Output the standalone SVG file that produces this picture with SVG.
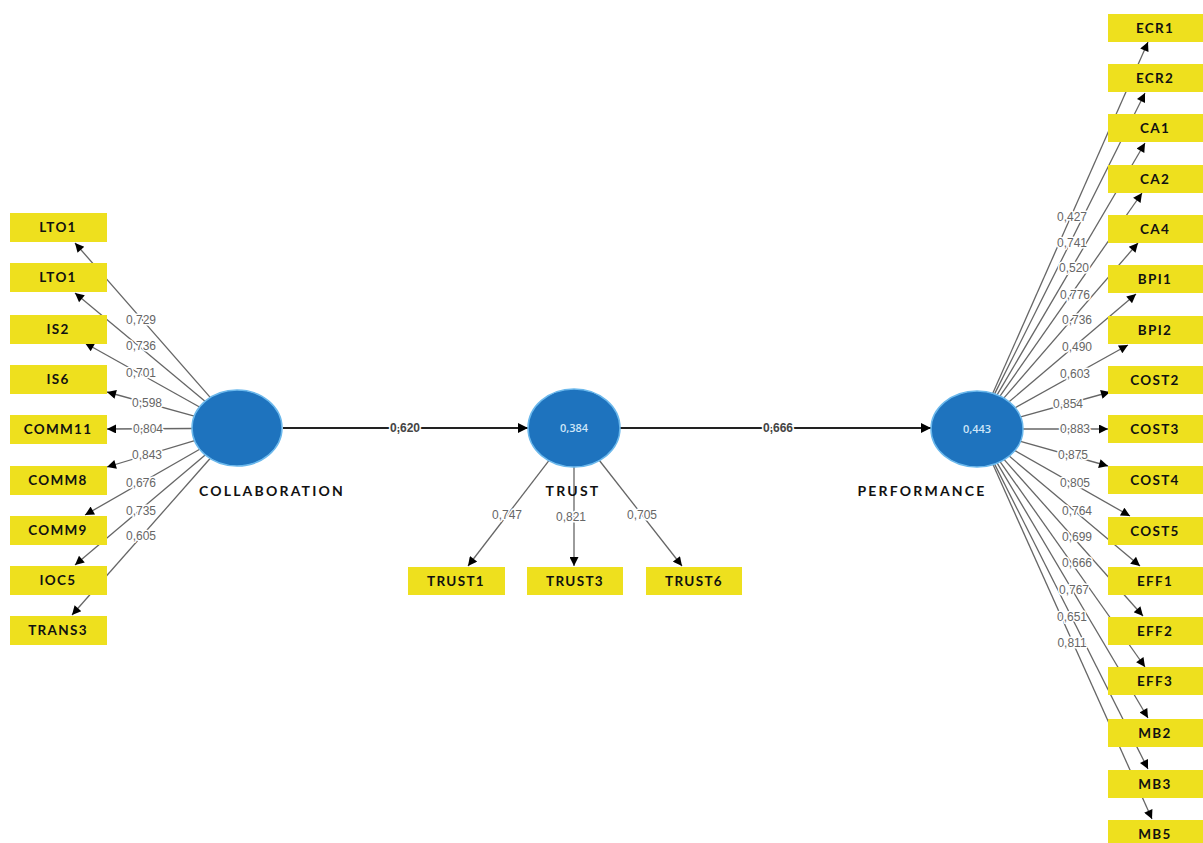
<svg xmlns="http://www.w3.org/2000/svg" width="1203" height="843" viewBox="0 0 1203 843">
<style>
.box{fill:#EEE01E}
.bt{font-family:Lato,"Open Sans",sans-serif;font-weight:700;font-size:13.5px;fill:#111;text-anchor:middle;letter-spacing:1.3px}
.lv{fill:#1E73BE;stroke:#6BB8EC;stroke-width:1.5}
.lvt{font-family:"Open Sans",sans-serif;font-size:11px;font-weight:600;fill:#CFE6F8;text-anchor:middle}
.name{font-family:Lato,"Open Sans",sans-serif;font-weight:700;font-size:14px;fill:#111;text-anchor:middle;letter-spacing:2.2px}
.ld{stroke:#666;stroke-width:1.3;fill:none;marker-end:url(#ah)}
.pth{stroke:#222;stroke-width:2;fill:none;marker-end:url(#ah2)}
.w{font-family:"Liberation Sans",Arial,sans-serif;font-size:12px;fill:#666;text-anchor:middle;stroke:#fff;stroke-width:3;paint-order:stroke;stroke-linejoin:round}
.wp{font-family:"Liberation Sans",Arial,sans-serif;font-size:12px;font-weight:700;fill:#444;text-anchor:middle;stroke:#fff;stroke-width:3;paint-order:stroke}
</style>
<defs>
<marker id="ah" viewBox="0 0 10 10" refX="10" refY="5" markerWidth="11" markerHeight="9" markerUnits="userSpaceOnUse" orient="auto"><path d="M0,0 L10,5 L0,10 z" fill="#000"/></marker>
<marker id="ah2" viewBox="0 0 10 10" refX="10" refY="5" markerWidth="13" markerHeight="10" markerUnits="userSpaceOnUse" orient="auto"><path d="M0,0 L10,5 L0,10 z" fill="#000"/></marker>
</defs>
<rect width="1203" height="843" fill="#fff"/>
<g id="connectors">
<line class="pth" x1="283" y1="428" x2="528" y2="428"/>
<line class="pth" x1="620" y1="428" x2="931" y2="428"/>
<line class="ld" x1="210.2" y1="397.4" x2="75" y2="243"/>
<line class="ld" x1="205" y1="401.3" x2="75" y2="293"/>
<line class="ld" x1="199.5" y1="407" x2="85" y2="343"/>
<line class="ld" x1="194.3" y1="416.2" x2="107" y2="392"/>
<line class="ld" x1="192" y1="428.5" x2="107" y2="429"/>
<line class="ld" x1="194.6" y1="440.7" x2="107" y2="467"/>
<line class="ld" x1="199.7" y1="449.3" x2="85" y2="515"/>
<line class="ld" x1="205.2" y1="454.9" x2="75" y2="565"/>
<line class="ld" x1="210.1" y1="458.5" x2="72" y2="615"/>
<line class="ld" x1="548.9" y1="460.7" x2="468" y2="566"/>
<line class="ld" x1="574" y1="467" x2="574" y2="566"/>
<line class="ld" x1="599.4" y1="460.5" x2="682" y2="566"/>
<line class="ld" x1="992.8" y1="393.3" x2="1148" y2="42"/>
<line class="ld" x1="994.6" y1="393.9" x2="1145" y2="93"/>
<line class="ld" x1="997.1" y1="394.8" x2="1145" y2="143"/>
<line class="ld" x1="1000" y1="396.1" x2="1142" y2="193"/>
<line class="ld" x1="1003.8" y1="398.1" x2="1138" y2="243"/>
<line class="ld" x1="1009.1" y1="401.8" x2="1136" y2="294"/>
<line class="ld" x1="1015.1" y1="407.8" x2="1128" y2="345"/>
<line class="ld" x1="1020.6" y1="416.9" x2="1110" y2="392"/>
<line class="ld" x1="1023" y1="429" x2="1108" y2="429"/>
<line class="ld" x1="1020.5" y1="441.3" x2="1108" y2="466"/>
<line class="ld" x1="1014.9" y1="450.6" x2="1130" y2="516"/>
<line class="ld" x1="1009.2" y1="456.1" x2="1140" y2="566"/>
<line class="ld" x1="1004.2" y1="459.6" x2="1143" y2="616"/>
<line class="ld" x1="1000.2" y1="461.8" x2="1145" y2="667"/>
<line class="ld" x1="997.2" y1="463.1" x2="1148" y2="718"/>
<line class="ld" x1="994.6" y1="464.1" x2="1148" y2="769"/>
<line class="ld" x1="993" y1="464.6" x2="1152" y2="819"/>
<text class="wp" x="405" y="432">0,620</text>
<text class="wp" x="778" y="432">0,666</text>
<text class="w" x="141" y="324">0,729</text>
<text class="w" x="141" y="350">0,736</text>
<text class="w" x="141" y="377">0,701</text>
<text class="w" x="147" y="407">0,598</text>
<text class="w" x="148" y="433">0,804</text>
<text class="w" x="147" y="459">0,843</text>
<text class="w" x="141" y="487">0,676</text>
<text class="w" x="141" y="515">0,735</text>
<text class="w" x="141" y="540">0,605</text>
<text class="w" x="507" y="519">0,747</text>
<text class="w" x="571" y="521">0,821</text>
<text class="w" x="642" y="519">0,705</text>
<text class="w" x="1072" y="221">0,427</text>
<text class="w" x="1072" y="247">0,741</text>
<text class="w" x="1074" y="272">0,520</text>
<text class="w" x="1075" y="299">0,776</text>
<text class="w" x="1077" y="324">0,736</text>
<text class="w" x="1077" y="351">0,490</text>
<text class="w" x="1075" y="378">0,603</text>
<text class="w" x="1068" y="408">0,854</text>
<text class="w" x="1075" y="433">0,883</text>
<text class="w" x="1073" y="459">0,875</text>
<text class="w" x="1075" y="487">0,805</text>
<text class="w" x="1077" y="515">0,764</text>
<text class="w" x="1077" y="541">0,699</text>
<text class="w" x="1077" y="567">0,666</text>
<text class="w" x="1074" y="594">0,767</text>
<text class="w" x="1072" y="621">0,651</text>
<text class="w" x="1072" y="647">0,811</text>
</g>
<g id="collaboration"><ellipse class="lv" cx="237" cy="428" rx="45" ry="38"/><text class="name" x="272" y="496">COLLABORATION</text></g>
<g id="trust"><ellipse class="lv" cx="574" cy="428" rx="46" ry="39"/><text class="lvt" x="574" y="432">0,384</text><text class="name" x="573" y="496">TRUST</text></g>
<g id="performance"><ellipse class="lv" cx="977" cy="429" rx="46" ry="38"/><text class="lvt" x="977" y="433">0,443</text><text class="name" x="922" y="496">PERFORMANCE</text></g>
<g id="LTO1a"><rect class="box" x="10" y="213" width="97" height="29"/><text class="bt" x="58" y="232">LTO1</text></g>
<g id="LTO1b"><rect class="box" x="10" y="263" width="97" height="29"/><text class="bt" x="58" y="282">LTO1</text></g>
<g id="IS2"><rect class="box" x="10" y="315" width="97" height="29"/><text class="bt" x="58" y="334">IS2</text></g>
<g id="IS6"><rect class="box" x="10" y="365" width="97" height="29"/><text class="bt" x="58" y="384">IS6</text></g>
<g id="COMM11"><rect class="box" x="10" y="415" width="97" height="29"/><text class="bt" x="58" y="434">COMM11</text></g>
<g id="COMM8"><rect class="box" x="10" y="466" width="97" height="29"/><text class="bt" x="58" y="485">COMM8</text></g>
<g id="COMM9"><rect class="box" x="10" y="516" width="97" height="29"/><text class="bt" x="58" y="535">COMM9</text></g>
<g id="IOC5"><rect class="box" x="10" y="566" width="97" height="29"/><text class="bt" x="58" y="585">IOC5</text></g>
<g id="TRANS3"><rect class="box" x="10" y="616" width="97" height="29"/><text class="bt" x="58" y="635">TRANS3</text></g>
<g id="TRUST1"><rect class="box" x="408" y="567" width="97" height="28"/><text class="bt" x="456" y="586">TRUST1</text></g>
<g id="TRUST3"><rect class="box" x="527" y="567" width="96" height="28"/><text class="bt" x="575" y="586">TRUST3</text></g>
<g id="TRUST6"><rect class="box" x="646" y="567" width="96" height="28"/><text class="bt" x="694" y="586">TRUST6</text></g>
<g id="ECR1"><rect class="box" x="1108" y="14" width="96" height="28"/><text class="bt" x="1155" y="33">ECR1</text></g>
<g id="ECR2"><rect class="box" x="1108" y="64" width="96" height="28"/><text class="bt" x="1155" y="83">ECR2</text></g>
<g id="CA1"><rect class="box" x="1108" y="114" width="96" height="28"/><text class="bt" x="1155" y="133">CA1</text></g>
<g id="CA2"><rect class="box" x="1108" y="165" width="96" height="28"/><text class="bt" x="1155" y="184">CA2</text></g>
<g id="CA4"><rect class="box" x="1108" y="215" width="96" height="28"/><text class="bt" x="1155" y="234">CA4</text></g>
<g id="BPI1"><rect class="box" x="1108" y="265" width="96" height="28"/><text class="bt" x="1155" y="284">BPI1</text></g>
<g id="BPI2"><rect class="box" x="1108" y="316" width="96" height="28"/><text class="bt" x="1155" y="335">BPI2</text></g>
<g id="COST2"><rect class="box" x="1108" y="366" width="96" height="28"/><text class="bt" x="1155" y="385">COST2</text></g>
<g id="COST3"><rect class="box" x="1108" y="415" width="96" height="28"/><text class="bt" x="1155" y="434">COST3</text></g>
<g id="COST4"><rect class="box" x="1108" y="466" width="96" height="28"/><text class="bt" x="1155" y="485">COST4</text></g>
<g id="COST5"><rect class="box" x="1108" y="517" width="96" height="28"/><text class="bt" x="1155" y="536">COST5</text></g>
<g id="EFF1"><rect class="box" x="1108" y="567" width="96" height="28"/><text class="bt" x="1155" y="586">EFF1</text></g>
<g id="EFF2"><rect class="box" x="1108" y="617" width="96" height="28"/><text class="bt" x="1155" y="636">EFF2</text></g>
<g id="EFF3"><rect class="box" x="1108" y="667" width="96" height="28"/><text class="bt" x="1155" y="686">EFF3</text></g>
<g id="MB2"><rect class="box" x="1108" y="719" width="96" height="28"/><text class="bt" x="1155" y="738">MB2</text></g>
<g id="MB3"><rect class="box" x="1108" y="770" width="96" height="28"/><text class="bt" x="1155" y="789">MB3</text></g>
<g id="MB5"><rect class="box" x="1108" y="820" width="96" height="28"/><text class="bt" x="1155" y="839">MB5</text></g>
</svg>
